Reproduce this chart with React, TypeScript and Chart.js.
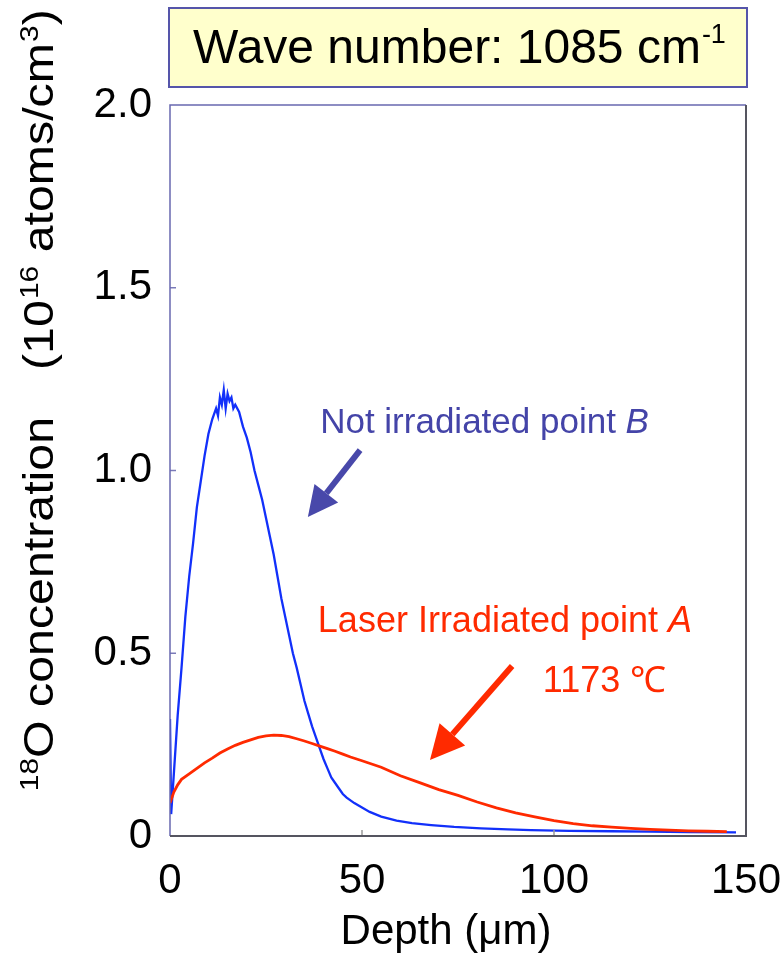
import React, { useEffect, useRef } from "react";
import { Chart, registerables } from "chart.js";

Chart.register(...registerables);

// ---- Data ----
const depthB = [0, 0.3, 1, 2, 3, 4, 5, 6, 7, 8, 9, 10, 11, 12, 12.5, 13, 13.5, 14, 14.5, 15, 15.5, 16, 16.5, 17, 18, 19, 20, 21, 22, 23, 24, 25, 26, 27, 28, 29, 30, 31, 32, 33, 34, 35, 36, 37, 38, 39, 40, 41, 42, 43, 44, 45, 46, 48, 50, 52, 55, 59, 63, 68, 74, 81, 88, 94, 104, 115, 125, 135, 147.4];
const concB = [0.32, 0.06, 0.17, 0.33, 0.46, 0.6, 0.71, 0.8, 0.9, 0.97, 1.04, 1.1, 1.14, 1.17, 1.15, 1.2, 1.18, 1.22, 1.17, 1.21, 1.19, 1.2, 1.17, 1.18, 1.16, 1.12, 1.09, 1.05, 1.0, 0.96, 0.92, 0.87, 0.82, 0.77, 0.71, 0.65, 0.6, 0.55, 0.5, 0.46, 0.415, 0.37, 0.335, 0.3, 0.27, 0.24, 0.21, 0.185, 0.16, 0.145, 0.13, 0.115, 0.105, 0.09, 0.078, 0.066, 0.053, 0.042, 0.035, 0.03, 0.025, 0.021, 0.018, 0.016, 0.014, 0.013, 0.012, 0.011, 0.01];

const depthA = [0, 1, 2, 3, 5, 7, 9, 11, 13, 15, 17, 19, 21, 23, 25, 27, 29, 31, 33, 35, 37, 39, 41, 43, 45, 47, 50, 55, 60, 65, 70, 75, 80, 85, 90, 95, 100, 105, 110, 115, 120, 125, 130, 135, 140, 145];
const concA = [0.09, 0.12, 0.14, 0.155, 0.17, 0.185, 0.2, 0.213, 0.227, 0.238, 0.248, 0.256, 0.263, 0.27, 0.274, 0.276, 0.275, 0.272, 0.266, 0.26, 0.253, 0.246, 0.239, 0.232, 0.224, 0.216, 0.206, 0.188, 0.165, 0.146, 0.127, 0.111, 0.093, 0.077, 0.063, 0.052, 0.042, 0.034, 0.028, 0.024, 0.021, 0.018, 0.016, 0.014, 0.013, 0.012];

const xTicks = [0, 50, 100, 150];
const yTicks = [0, 0.5, 1.0, 1.5, 2.0];
const innerXTicks = [50, 100];
const innerYTicks = [0.5, 1.0, 1.5];

const titleMain = "Wave number: 1085 cm";
const titleSup = "-1";
const xTitle = "Depth (\u03bcm)";
const labelB = "Not irradiated point ";
const labelBItalic = "B";
const labelA = "Laser Irradiated point ";
const labelAItalic = "A";
const labelTemp = "1173 \u2103";

// annotation anchors in data coordinates
const labelBPos = [39.1, 1.103];
const labelAPos = [38.5, 0.558];
const labelTempPos = [97.1, 0.394];
const arrowB = [49.5, 1.056, 35.9, 0.873];
const arrowA = [89.1, 0.465, 67.7, 0.208];

const FONT = '"Liberation Sans", Arial, "Helvetica", sans-serif';
const BLUE_LINE = "#1230FA";
const RED_LINE = "#FF2A00";
const BLUE_TEXT = "#4444A8";
const RED_TEXT = "#FF2A00";

function drawArrow(ctx: CanvasRenderingContext2D, x1: number, y1: number, x2: number, y2: number, color: string, lw: number, headLen: number, headW: number) {
  const ang = Math.atan2(y2 - y1, x2 - x1);
  const bx = x2 - headLen * Math.cos(ang);
  const by = y2 - headLen * Math.sin(ang);
  ctx.strokeStyle = color;
  ctx.fillStyle = color;
  ctx.lineWidth = lw;
  ctx.lineCap = "butt";
  ctx.beginPath();
  ctx.moveTo(x1, y1);
  ctx.lineTo(bx, by);
  ctx.stroke();
  const px = -Math.sin(ang), py = Math.cos(ang);
  ctx.beginPath();
  ctx.moveTo(x2, y2);
  ctx.lineTo(bx + px * headW / 2, by + py * headW / 2);
  ctx.lineTo(bx - px * headW / 2, by - py * headW / 2);
  ctx.closePath();
  ctx.fill();
}

const overlayPlugin = {
  id: "overlay",
  afterDraw(chart: any) {
    const { ctx, chartArea: a, scales } = chart;
    const xs = scales.x, ys = scales.y;
    ctx.save();

    // inward ticks
    ctx.lineWidth = 1.5;
    ctx.strokeStyle = "#9a9a9a";
    innerXTicks.forEach((v) => {
      const px = xs.getPixelForValue(v);
      ctx.beginPath();
      ctx.moveTo(px, a.bottom);
      ctx.lineTo(px, a.bottom - 6);
      ctx.stroke();
    });
    ctx.strokeStyle = "#7a7ab8";
    innerYTicks.forEach((v) => {
      const py = ys.getPixelForValue(v);
      ctx.beginPath();
      ctx.moveTo(a.left, py);
      ctx.lineTo(a.left + 6, py);
      ctx.stroke();
    });

    // plot frame
    ctx.lineWidth = 1.5;
    ctx.strokeStyle = "#6868b0";
    ctx.beginPath();
    ctx.moveTo(a.left, a.bottom);
    ctx.lineTo(a.left, a.top);
    ctx.lineTo(a.right, a.top);
    ctx.stroke();
    ctx.lineWidth = 2;
    ctx.strokeStyle = "#555560";
    ctx.beginPath();
    ctx.moveTo(a.right, a.top);
    ctx.lineTo(a.right, a.bottom);
    ctx.lineTo(a.left, a.bottom);
    ctx.stroke();

    // title box
    const bx = a.left - 1, bw = a.right - a.left + 2, by = 8, bh = 79;
    ctx.fillStyle = "#FFFFCC";
    ctx.fillRect(bx, by, bw, bh);
    ctx.lineWidth = 2;
    ctx.strokeStyle = "#5555AA";
    ctx.strokeRect(bx, by, bw, bh);
    ctx.fillStyle = "#000";
    ctx.textBaseline = "alphabetic";
    ctx.textAlign = "left";
    ctx.font = `48px ${FONT}`;
    const wMain = ctx.measureText(titleMain).width;
    ctx.font = `27px ${FONT}`;
    const wSup = ctx.measureText(titleSup).width;
    const tx = 459 - (wMain + wSup) / 2;
    ctx.font = `48px ${FONT}`;
    ctx.fillText(titleMain, tx, 63);
    ctx.font = `27px ${FONT}`;
    ctx.fillText(titleSup, tx + wMain + 1, 43);

    // annotations
    const lbx = xs.getPixelForValue(labelBPos[0]);
    const lby = ys.getPixelForValue(labelBPos[1]);
    ctx.fillStyle = BLUE_TEXT;
    ctx.font = `35px ${FONT}`;
    ctx.fillText(labelB, lbx, lby);
    const wB = ctx.measureText(labelB).width;
    ctx.font = `italic 35px ${FONT}`;
    ctx.fillText(labelBItalic, lbx + wB, lby);

    const lax = xs.getPixelForValue(labelAPos[0]);
    const lay = ys.getPixelForValue(labelAPos[1]);
    ctx.fillStyle = RED_TEXT;
    ctx.font = `36px ${FONT}`;
    ctx.fillText(labelA, lax, lay);
    const wA = ctx.measureText(labelA).width;
    ctx.font = `italic 36px ${FONT}`;
    ctx.fillText(labelAItalic, lax + wA, lay);
    ctx.font = `36px ${FONT}`;
    ctx.fillText(labelTemp, xs.getPixelForValue(labelTempPos[0]), ys.getPixelForValue(labelTempPos[1]));

    drawArrow(ctx, xs.getPixelForValue(arrowB[0]), ys.getPixelForValue(arrowB[1]), xs.getPixelForValue(arrowB[2]), ys.getPixelForValue(arrowB[3]), "#4848AA", 6, 30, 30);
    drawArrow(ctx, xs.getPixelForValue(arrowA[0]), ys.getPixelForValue(arrowA[1]), xs.getPixelForValue(arrowA[2]), ys.getPixelForValue(arrowA[3]), "#FF2A00", 6, 34, 34);

    // x title
    ctx.fillStyle = "#000";
    ctx.font = `42px ${FONT}`;
    ctx.textAlign = "center";
    ctx.fillText(xTitle, 446, 944);

    // y title (rotated)
    ctx.textAlign = "left";
    const f = 42, sf = 26, s = 1.15;
    ctx.save();
    ctx.translate(53, 417);
    ctx.rotate(-Math.PI / 2);
    ctx.scale(s, 1);
    ctx.font = `${sf}px ${FONT}`;
    const w18 = ctx.measureText("18").width;
    ctx.font = `${f}px ${FONT}`;
    const wP1 = ctx.measureText("O concentration").width;
    const start1 = -(w18 + wP1);
    ctx.font = `${sf}px ${FONT}`;
    ctx.fillText("18", start1, -15);
    ctx.font = `${f}px ${FONT}`;
    ctx.fillText("O concentration", start1 + w18, 0);
    let cx = 47 / s;
    ctx.fillText("(10", cx, 0);
    cx += ctx.measureText("(10").width;
    ctx.font = `${sf}px ${FONT}`;
    ctx.fillText("16", cx + 1, -15);
    cx += ctx.measureText("16").width + 1;
    ctx.font = `${f}px ${FONT}`;
    ctx.fillText(" atoms/cm", cx, 0);
    cx += ctx.measureText(" atoms/cm").width;
    ctx.font = `${sf}px ${FONT}`;
    ctx.fillText("3", cx + 1, -15);
    cx += ctx.measureText("3").width + 1;
    ctx.font = `${f}px ${FONT}`;
    ctx.fillText(")", cx, 0);
    ctx.restore();

    ctx.restore();
  },
};

export default function App() {
  const ref = useRef<HTMLCanvasElement>(null);
  useEffect(() => {
    if (!ref.current) return;
    const dataB = depthB.map((x, i) => ({ x, y: concB[i] }));
    const dataA = depthA.map((x, i) => ({ x, y: concA[i] }));
    const chart = new Chart(ref.current, {
      type: "line",
      data: {
        datasets: [
          { label: "Laser Irradiated point A", data: dataA, borderColor: RED_LINE, borderWidth: 2.8, pointRadius: 0, fill: false, tension: 0 },
          { label: "Not irradiated point B", data: dataB, borderColor: BLUE_LINE, borderWidth: 2.3, pointRadius: 0, fill: false, tension: 0 },
        ],
      },
      options: {
        animation: false,
        responsive: false,
        events: [],
        layout: { padding: { left: 0, top: 105, right: 35, bottom: 0 } },
        plugins: { legend: { display: false }, tooltip: { enabled: false }, title: { display: false } },
        scales: {
          x: {
            type: "linear",
            min: 0,
            max: 150,
            afterFit: (scale: any) => { scale.height = 119; scale.paddingLeft = 0; scale.paddingRight = 0; },
            afterBuildTicks: (scale: any) => { scale.ticks = xTicks.map((v) => ({ value: v })); },
            grid: { display: false, drawTicks: false },
            border: { display: false },
            ticks: { color: "#000", font: { family: FONT, size: 42 }, padding: 20, maxRotation: 0, autoSkip: false, callback: (v: any) => String(v) },
          },
          y: {
            type: "linear",
            min: 0,
            max: 2,
            afterFit: (scale: any) => { scale.width = 170; scale.paddingTop = 0; scale.paddingBottom = 0; },
            afterBuildTicks: (scale: any) => { scale.ticks = yTicks.map((v) => ({ value: v })); },
            grid: { display: false, drawTicks: false },
            border: { display: false },
            ticks: { color: "#000", font: { family: FONT, size: 42 }, padding: 18, autoSkip: false, callback: (v: any) => (Number(v) === 0 ? "0" : Number(v).toFixed(1)) },
          },
        },
      },
      plugins: [overlayPlugin],
    });
    return () => chart.destroy();
  }, []);
  return (
    <div style={{ position: "fixed", left: 0, top: 0, width: 781, height: 955, background: "#fff" }}>
      <canvas ref={ref} width={781} height={955} style={{ display: "block" }} />
    </div>
  );
}
